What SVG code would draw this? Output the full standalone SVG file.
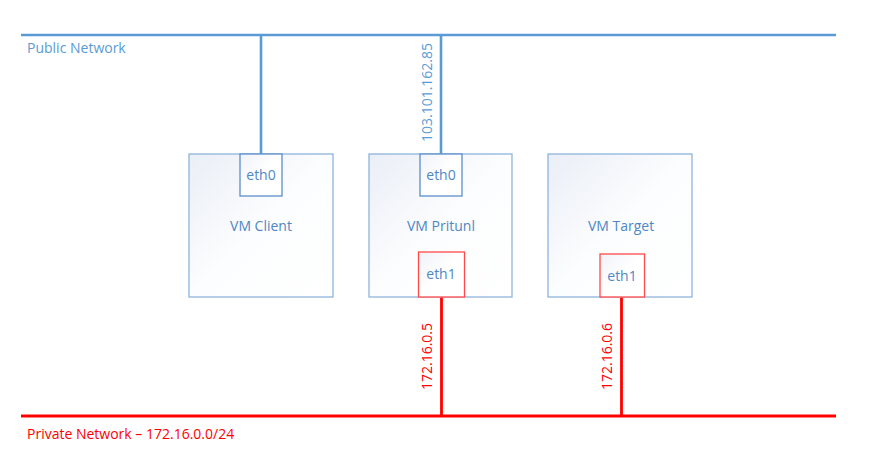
<svg xmlns="http://www.w3.org/2000/svg" width="869" height="463" viewBox="0 0 869 463">
<style>
.vm{stroke:#8fb4dc;stroke-width:1.3;fill:url(#g)}
.e0{stroke:#5b8fc9;stroke-width:1.3;fill:url(#g2)}
.e1{stroke:#ff4a4a;stroke-width:1.3;fill:url(#g2)}
.t{font-family:"Open Sans","Noto Sans",sans-serif;font-size:14px;fill:#4f87c6;text-anchor:middle}
.pub{stroke:#5b9bd5;stroke-width:2.6;fill:none}
.prv{stroke:#ff0000;stroke-width:2.8;fill:none}
.ip{font-family:"Open Sans","Noto Sans",sans-serif;font-size:14px;text-anchor:middle}
.lbl{font-family:"Open Sans","Noto Sans",sans-serif;font-size:14px}
</style>
<defs>
<linearGradient id="g" x1="0" y1="0" x2="1" y2="1">
<stop offset="0" stop-color="#eaeef6"/>
<stop offset="0.5" stop-color="#fcfdfe"/>
<stop offset="1" stop-color="#ffffff"/>
</linearGradient>
<linearGradient id="g2" x1="0" y1="0" x2="1" y2="1">
<stop offset="0" stop-color="#f0f2f8"/>
<stop offset="0.5" stop-color="#ffffff"/>
</linearGradient>
</defs>
<rect width="869" height="463" fill="#ffffff"/>
<g id="connectors">
<line class="pub" x1="21" y1="35" x2="836" y2="35"/>
<line class="pub" x1="261" y1="35" x2="261" y2="154"/>
<line class="pub" x1="441" y1="35" x2="441" y2="154"/>
<line class="prv" x1="21" y1="416" x2="836" y2="416"/>
<line class="prv" x1="441.5" y1="297" x2="441.5" y2="416"/>
<line class="prv" x1="621.5" y1="297" x2="621.5" y2="416"/>
</g>
<g id="labels">
<text class="lbl" x="27" y="53" fill="#5b9bd5">Public Network</text>
<text class="lbl" x="27" y="439" fill="#ff0000">Private Network – 172.16.0.0/24</text>
<text class="ip" transform="translate(432,92.5) rotate(-90)" fill="#5b9bd5">103.101.162.85</text>
<text class="ip" transform="translate(432,356.5) rotate(-90)" fill="#ff0000">172.16.0.5</text>
<text class="ip" transform="translate(612,356.5) rotate(-90)" fill="#ff0000">172.16.0.6</text>
</g>
<g id="vm-client">
<rect class="vm" x="189" y="154" width="144" height="143"/>
<text class="t" x="261" y="231">VM Client</text>
</g>
<g id="vm-client-eth0">
<rect class="e0" x="240" y="154" width="42" height="42"/>
<text class="t" x="261" y="180">eth0</text>
</g>
<g id="vm-pritunl">
<rect class="vm" x="369" y="154" width="143" height="143"/>
<text class="t" x="441" y="231">VM Pritunl</text>
</g>
<g id="vm-pritunl-eth0">
<rect class="e0" x="420" y="154" width="42" height="42"/>
<text class="t" x="441" y="180">eth0</text>
</g>
<g id="vm-pritunl-eth1">
<rect class="e1" x="418.5" y="252" width="46" height="45"/>
<text class="t" x="441" y="279">eth1</text>
</g>
<g id="vm-target">
<rect class="vm" x="548" y="154" width="144" height="143"/>
<text class="t" x="621" y="231">VM Target</text>
</g>
<g id="vm-target-eth1">
<rect class="e1" x="600" y="254" width="44.5" height="43"/>
<text class="t" x="622" y="281">eth1</text>
</g>
</svg>
